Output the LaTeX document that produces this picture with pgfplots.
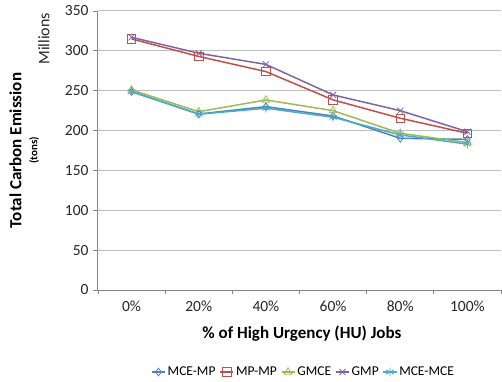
\documentclass[border=0pt]{standalone}
\usepackage{pgfplots}
\pgfplotsset{compat=1.18}
\usepackage{fontspec}
\setmainfont{Carlito}
\definecolor{cblue}{HTML}{4F81BD}
\definecolor{cred}{HTML}{C0504D}
\definecolor{cgreen}{HTML}{9BBB59}
\definecolor{cpurple}{HTML}{8064A2}
\definecolor{caqua}{HTML}{4BACC6}
\definecolor{gridc}{HTML}{BEBEBE}
\definecolor{axisc}{HTML}{868686}
\begin{document}
\begin{tikzpicture}
\useasboundingbox (-98bp,-92bp) rectangle (404bp,290bp);
\begin{axis}[
  at={(0,0)}, anchor=south west,
  scale only axis, width=403bp, height=279bp,
  xmin=-0.5, xmax=5.5, ymin=0, ymax=350,
  xtick={0,1,2,3,4,5},
  xticklabels={0\%,20\%,40\%,60\%,80\%,100\%},
  minor xtick={-0.5,0.5,1.5,2.5,3.5,4.5,5.5},
  ytick={0,50,...,350},
  major x tick style={draw=none},
  minor tick length=4bp,
  major tick length=5bp,
  tick align=outside,
  tick pos=left,
  tick style={axisc, line width=0.8bp},
  axis x line*=bottom, axis y line*=left,
  axis line style={axisc, line width=1bp, -},
  ymajorgrids, grid style={gridc, line width=1bp},
  /pgf/number format/assume math mode=true,
  ticklabel style={font=\fontsize{15.5bp}{17bp}\selectfont, text=black!85},
  xticklabel style={yshift=-2bp},
  yticklabel style={xshift=-1bp},
  xlabel={\textbf{\% of High Urgency (HU) Jobs}},
  xlabel style={font=\fontsize{17bp}{19bp}\selectfont, at={(axis description cs:0.506,-0.158)}, anchor=center},
  ylabel={\textbf{Total Carbon Emission}\\[-3bp]{\fontsize{11bp}{12bp}\selectfont\textbf{(tons)}}},
  ylabel style={align=center, font=\fontsize{17bp}{19bp}\selectfont, at={(axis description cs:-0.183,0.5)}, anchor=center},
  legend style={at={(axis description cs:0.51,-0.294)}, anchor=center, draw=none, legend columns=5,
    font=\fontsize{13.5bp}{15bp}\selectfont, /tikz/every even column/.append style={column sep=2bp}},
  legend image code/.code={\draw[#1] (0cm,0cm) -- (0.46cm,0cm); \draw[#1, mark repeat=2, mark phase=2] plot coordinates {(0cm,0cm) (0.23cm,0cm) (0.46cm,0cm)};},
  every axis plot/.append style={line width=1.5bp, mark options={solid, line width=0.8bp}},
  clip=false,
]
\addplot[cblue, mark=diamond, mark size=3.8bp] coordinates {(0,248.8) (1,220.8) (2,230) (3,218.3) (4,190.3) (5,189)};
\addlegendentry{MCE-MP}
\addplot[cred, mark=square, mark size=4.3bp] coordinates {(0,315) (1,293) (2,274) (3,238.5) (4,215.5) (5,196.6)};
\addlegendentry{MP-MP}
\addplot[cgreen, mark=triangle, mark size=4.3bp] coordinates {(0,251) (1,223.7) (2,238.4) (3,225) (4,196.6) (5,185)};
\addlegendentry{GMCE}
\addplot[cpurple, mark=x, mark size=4.3bp] coordinates {(0,317) (1,297) (2,283) (3,244.7) (4,225) (5,198.6)};
\addlegendentry{GMP}
\addplot[caqua, mark=asterisk, mark size=4.3bp] coordinates {(0,249) (1,220.5) (2,228) (3,216.7) (4,194.5) (5,183)};
\addlegendentry{MCE-MCE}
\node[rotate=90, font=\fontsize{16bp}{18bp}\selectfont, text=black!85] at (axis description cs:-0.134,0.9) {Millions};
\end{axis}
\end{tikzpicture}
\end{document}
